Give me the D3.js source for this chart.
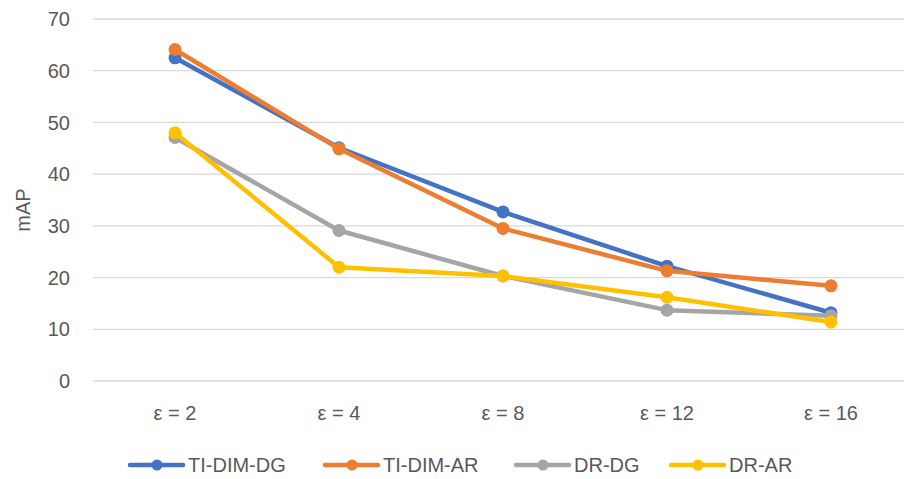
<!DOCTYPE html>
<html>
<head>
<meta charset="utf-8">
<script src="https://cdn.jsdelivr.net/npm/d3@7"></script>
<style>
  body { margin: 0; background: #fff; }
  svg text { font-family: "Liberation Sans", sans-serif; fill: #595959; }
</style>
</head>
<body>
<svg id="chart" width="904" height="479"></svg>
<script>
// categories and series
const categories = ['ε = 2', 'ε = 4', 'ε = 8', 'ε = 12', 'ε = 16'];
const seriesNames = ['TI-DIM-DG', 'TI-DIM-AR', 'DR-DG', 'DR-AR'];
const tiDimDg = [62.5, 45.1, 32.7, 22.2, 13.2];
const tiDimAr = [64.1, 44.9, 29.5, 21.3, 18.4];
const drDg = [47.1, 29.1, 20.3, 13.7, 12.6];
const drAr = [48.0, 22.0, 20.3, 16.2, 11.4];
const yTicks = [0, 10, 20, 30, 40, 50, 60, 70];

const colors = ['#4472C4', '#ED7D31', '#A5A5A5', '#FFC000'];
const series = [tiDimDg, tiDimAr, drDg, drAr];

const svg = d3.select('#chart');
const plotLeft = 93, plotRight = 913, plotTop = 19, plotBottom = 381;
const fontSize = '20px';

const x = d3.scaleBand().domain(categories).range([plotLeft, plotRight]);
const y = d3.scaleLinear().domain([0, 70]).range([plotBottom, plotTop]);

// gridlines
svg.append('g')
  .selectAll('line')
  .data(yTicks)
  .enter().append('line')
  .attr('x1', plotLeft).attr('x2', 904)
  .attr('y1', d => y(d)).attr('y2', d => y(d))
  .attr('stroke', '#d9d9d9')
  .attr('stroke-width', 1.3);

// y tick labels
svg.append('g')
  .selectAll('text')
  .data(yTicks)
  .enter().append('text')
  .attr('x', 70).attr('y', d => y(d))
  .attr('dy', '0.36em')
  .attr('text-anchor', 'end')
  .style('font-size', fontSize)
  .text(d => d);

// x labels
svg.append('g')
  .selectAll('text')
  .data(categories)
  .enter().append('text')
  .attr('x', d => x(d) + x.bandwidth() / 2)
  .attr('y', 413)
  .attr('dy', '0.36em')
  .attr('text-anchor', 'middle')
  .style('font-size', fontSize)
  .text(d => d);

// y axis title
svg.append('text')
  .attr('transform', 'translate(23,210) rotate(-90)')
  .attr('text-anchor', 'middle')
  .attr('dy', '0.36em')
  .style('font-size', fontSize)
  .text('mAP');

const line = d3.line()
  .x((d, i) => x(categories[i]) + x.bandwidth() / 2)
  .y(d => y(d));

series.forEach((s, k) => {
  const g = svg.append('g');
  g.append('path')
    .datum(s)
    .attr('d', line)
    .attr('fill', 'none')
    .attr('stroke', colors[k])
    .attr('stroke-width', 4.5)
    .attr('stroke-linejoin', 'round');
  g.selectAll('circle')
    .data(s)
    .enter().append('circle')
    .attr('cx', (d, i) => x(categories[i]) + x.bandwidth() / 2)
    .attr('cy', d => y(d))
    .attr('r', 6.5)
    .attr('fill', colors[k]);
});

// legend
const legendX = [128, 323, 514, 669];
const legend = svg.append('g');
seriesNames.forEach((name, k) => {
  const lg = legend.append('g').attr('transform', `translate(${legendX[k]},465)`);
  lg.append('line')
    .attr('x1', 2).attr('x2', 55)
    .attr('stroke', colors[k])
    .attr('stroke-width', 4.5)
    .attr('stroke-linecap', 'round');
  lg.append('circle').attr('cx', 29).attr('r', 5.5).attr('fill', colors[k]);
  lg.append('text')
    .attr('x', 60).attr('dy', '0.36em')
    .style('font-size', fontSize)
    .text(name);
});
</script>
</body>
</html>
